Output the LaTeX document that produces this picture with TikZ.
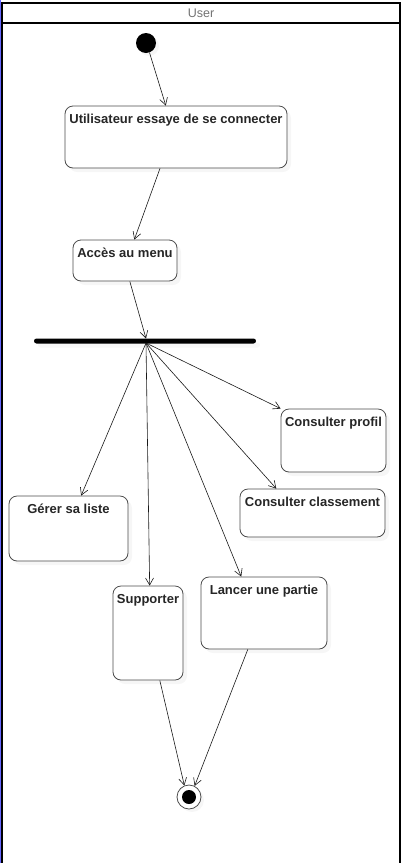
\documentclass[tikz,border=0pt]{standalone}
\usepackage{fontspec}
\setmainfont{Liberation Sans}
\usetikzlibrary{arrows.meta,shadows}

\begin{document}
\begin{tikzpicture}[x=1pt,y=-1pt,
    act/.style={draw=black!70, thick, rounded corners=8, fill=white, inner sep=0,
        drop shadow={shadow xshift=4pt, shadow yshift=-4pt, opacity=0.07}},
    lbl/.style={anchor=north, yshift=-5pt, font=\bfseries\fontsize{13}{15}\selectfont, text=black!85},
    flow/.style={-{Straight Barb[length=7pt,width=8pt]}, black!90, semithick}]
    \useasboundingbox (0,0) rectangle (404,863);
    % swimlane
    \draw[blue!60, line width=0.6] (0.3,0) -- (0.3,863);
    \draw[line width=1.6] (2,3) rectangle (400,870);
    \draw[line width=1.6] (2,23) -- (400,23);
    \node[text=black!55, font=\fontsize{12.5}{14}\selectfont] (lane) at (201,13) {User};
    % start / end
    \node[circle, fill=black, minimum size=20, inner sep=0,
        drop shadow={shadow xshift=3pt, shadow yshift=-3pt, opacity=0.07}] (init) at (146,43) {};
    \node[circle, draw=black!70, thick, fill=white, minimum size=24, inner sep=0,
        drop shadow={shadow xshift=3pt, shadow yshift=-3pt, opacity=0.07}] (final) at (189,797) {};
    \node[circle, fill=black, minimum size=14, inner sep=0] (finaldot) at (final) {};
    % actions
    \node[act, minimum width=222, minimum height=62] (conn) at (176,137) {};
    \node[lbl] (connt) at (conn.north) {Utilisateur essaye de se connecter};
    \node[act, minimum width=104, minimum height=41] (menu) at (125,260.5) {};
    \node[lbl] (menut) at (menu.north) {Accès au menu};
    \node[act, minimum width=105, minimum height=63] (prof) at (333.5,440.5) {};
    \node[lbl] (proft) at (prof.north) {Consulter profil};
    \node[act, minimum width=145, minimum height=48] (cls) at (312.5,513) {};
    \node[lbl] (clst) at (cls.north) {Consulter classement};
    \node[act, minimum width=119, minimum height=65] (liste) at (68.5,528.5) {};
    \node[lbl] (listet) at (liste.north) {Gérer sa liste};
    \node[act, minimum width=70, minimum height=94] (supp) at (148,633) {};
    \node[lbl] (suppt) at (supp.north) {Supporter};
    \node[act, minimum width=126, minimum height=72] (partie) at (264,613) {};
    \node[lbl] (partiet) at (partie.north) {Lancer une partie};
    % fork
    \node[fill=black, minimum width=222, minimum height=5, inner sep=0, rounded corners=2.5,
        drop shadow={shadow xshift=4pt, shadow yshift=-4pt, opacity=0.06}] (fork) at (145,341) {};
    \coordinate (fin) at (146,338.5);
    \coordinate (fout) at (146,343);
    % flows
    \draw[flow] (init.-70) -- (conn.108);
    \draw[flow] (conn.-117) -- (menu.66);
    \draw[flow] (menu.-77) -- (fin);
    \draw[flow] (fout) -- (prof.north west);
    \draw[flow] (fout) -- (cls.146);
    \draw[flow] (fout) -- (partie.122);
    \draw[flow] (fout) -- (supp.88);
    \draw[flow] (fout) -- (liste.69);
    \draw[flow] (supp.-76) -- (final.112);
    \draw[flow] (partie.-114) -- (final.63);
\end{tikzpicture}
\end{document}
